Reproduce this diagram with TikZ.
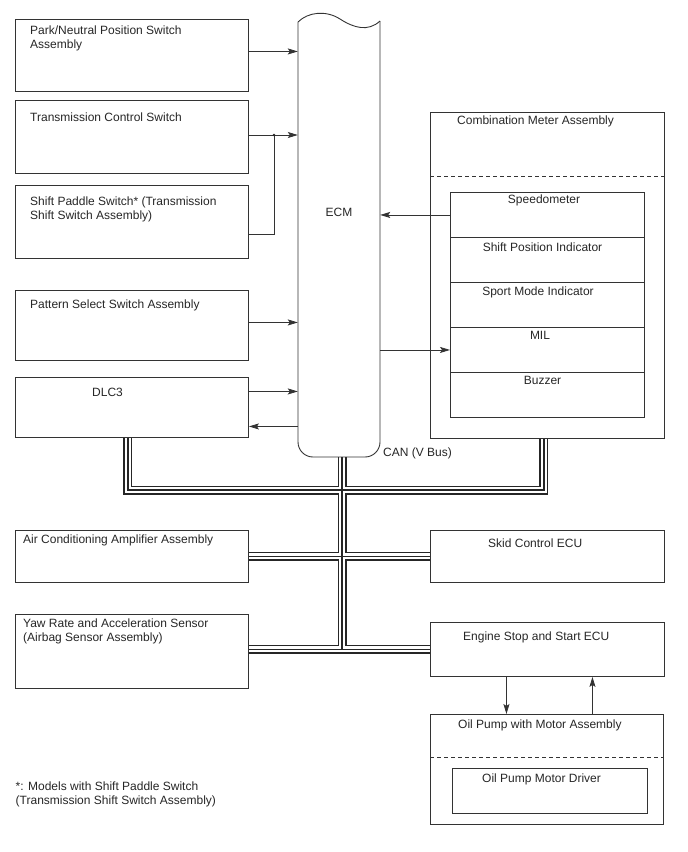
\documentclass[tikz,border=0pt]{standalone}
\usepackage{fontspec}
\setmainfont{Liberation Sans}
\usetikzlibrary{arrows.meta}
\pgfdeclarelayer{background}
\pgfsetlayers{background,main}

\tikzset{
  unit/.style={draw=black!80, line width=0.9pt, inner sep=0pt, anchor=north west},
  lbl/.style={anchor=base west, inner sep=0pt, align=left},
  clbl/.style={anchor=base, inner sep=0pt},
  sig/.style={draw=black!80, line width=0.8pt},
  sigarr/.style={sig, -{Stealth[length=10pt, width=6pt, inset=2pt]}},
  busouter/.style={line width=9pt, draw=black!85},
  busgap/.style={line width=6pt, draw=white},
  buscore/.style={line width=1.1pt, draw=black!85},
}

% CAN (V Bus) wiring, drawn once per layer
\newcommand{\canbus}[1]{%
  \draw[#1] ([xshift=-4pt]dlc.south) |- (hub) -| ([xshift=-3.5pt]cma.south);
  \draw[#1] (ecm.south -| hub) -- (hub |- eng.west);
  \draw[#1] (ac.east) -- (skid.west);
  \draw[#1] (yaw.east |- eng.west) -- (eng.west);
}

\begin{document}
\begin{tikzpicture}[x=1pt, y=-1pt, font=\fontsize{12}{14}\selectfont, text=black!85]
  \useasboundingbox (0,0) rectangle (688,852);

  % switches on the left
  \node[unit, minimum width=233, minimum height=72] (pns) at (15,19) {};
  \node[lbl] (pnstxt) at (30,48.5) {Park/Neutral Position Switch\\Assembly};
  \node[unit, minimum width=233, minimum height=73] (tcs) at (15,100) {};
  \node[lbl] (tcstxt) at (30,121) {Transmission Control Switch};
  \node[unit, minimum width=233, minimum height=73] (sps) at (15,185) {};
  \node[lbl] (spstxt) at (30,219) {Shift Paddle Switch* (Transmission\\Shift Switch Assembly)};
  \node[unit, minimum width=233, minimum height=70] (pss) at (15,290) {};
  \node[lbl] (psstxt) at (30,308) {Pattern Select Switch Assembly};
  \node[unit, minimum width=233, minimum height=60] (dlc) at (15,377) {};
  \node[lbl] (dlctxt) at (92,396) {DLC3};

  % ECM
  \node[inner sep=0pt, minimum width=82, minimum height=436] (ecm) at (339,239) {};
  \draw[sig, line width=0.9pt] (298,22) .. controls (308,12) and (326,10) .. (340,19)
    .. controls (354,28) and (368,32) .. (380,21);
  \draw[sig, line width=0.9pt, rounded corners=15pt] (380,21) -- (380,457) -- (298,457) -- (298,22);
  \node[clbl] (ecmtxt) at (339,216) {ECM};
  \node[lbl] (cantxt) at (383,456.5) {CAN (V Bus)};

  % combination meter
  \node[unit, minimum width=234, minimum height=326] (cma) at (430,112) {};
  \node[lbl] (cmatxt) at (457,124) {Combination Meter Assembly};
  \draw[sig, dash pattern=on 4pt off 3pt] ([yshift=-64pt]cma.north west) -- ([yshift=-64pt]cma.north east);
  \node[unit, minimum width=194, minimum height=45] (spd) at (450,192) {};
  \node[unit, minimum width=194, minimum height=45] (spi) at (450,237) {};
  \node[unit, minimum width=194, minimum height=45] (smi) at (450,282) {};
  \node[unit, minimum width=194, minimum height=45] (mil) at (450,327) {};
  \node[unit, minimum width=194, minimum height=45] (buz) at (450,372) {};
  \node[clbl] (spdtxt) at (544,203.5) {Speedometer};
  \node[clbl] (spitxt) at (542.5,251) {Shift Position Indicator};
  \node[clbl] (smitxt) at (538,295) {Sport Mode Indicator};
  \node[clbl] (miltxt) at (540,339.5) {MIL};
  \node[clbl] (buztxt) at (542.5,384.5) {Buzzer};

  % units on the CAN bus
  \node[unit, minimum width=233, minimum height=52] (ac) at (15,530) {};
  \node[lbl] (actxt) at (23,543) {Air Conditioning Amplifier Assembly};
  \node[unit, minimum width=234, minimum height=52] (skid) at (430,530) {};
  \node[lbl] (skidtxt) at (488,547.5) {Skid Control ECU};
  \node[unit, minimum width=233, minimum height=74] (yaw) at (15,614) {};
  \node[lbl] (yawtxt) at (23,641.5) {Yaw Rate and Acceleration Sensor\\(Airbag Sensor Assembly)};
  \node[unit, minimum width=234, minimum height=54] (eng) at (430,622) {};
  \node[lbl] (engtxt) at (463,640.5) {Engine Stop and Start ECU};

  % oil pump
  \node[unit, minimum width=233, minimum height=110] (opm) at (430,714) {};
  \node[lbl] (opmtxt) at (458,728.5) {Oil Pump with Motor Assembly};
  \draw[sig, dash pattern=on 4pt off 3pt] ([yshift=-43pt]opm.north west) -- ([yshift=-43pt]opm.north east);
  \node[unit, minimum width=195, minimum height=45] (drv) at (452,768) {};
  \node[lbl] (drvtxt) at (482,782.5) {Oil Pump Motor Driver};

  \node[lbl] (note) at (15.5,804.5) {*: Models with Shift Paddle Switch\\(Transmission Shift Switch Assembly)};

  % signal lines
  \coordinate (jn) at (274,135);
  \coordinate (hub) at (342,490);
  \draw[sigarr] ([yshift=4pt]pns.east) -- ([yshift=4pt]pns.east -| ecm.west);
  \draw[sigarr] (tcs.east |- jn) -- (jn -| ecm.west);
  \draw[sig] ([yshift=-12.5pt]sps.east) -| (jn);
  \fill[black!85] (jn) circle (1.3pt);
  \draw[sigarr] ([yshift=3pt]pss.east) -- ([yshift=3pt]pss.east -| ecm.west);
  \draw[sigarr] ([yshift=16pt]dlc.east) -- ([yshift=16pt]dlc.east -| ecm.west);
  \draw[sigarr] ([yshift=-19pt]dlc.east -| ecm.west) -- ([yshift=-19pt]dlc.east);
  \draw[sigarr] (spd.west) -- (spd.west -| ecm.east);
  \draw[sigarr] (mil.west -| ecm.east) -- (mil.west);
  \draw[sigarr] ([xshift=-41pt]eng.south) -- ([xshift=-41pt]eng.south |- opm.north);
  \draw[sigarr] ([xshift=45.5pt]opm.north) -- ([xshift=45.5pt]opm.north |- eng.south);

  \begin{pgfonlayer}{background}
    \canbus{busouter}
    \canbus{busgap}
    \canbus{buscore}
  \end{pgfonlayer}
\end{tikzpicture}
\end{document}
